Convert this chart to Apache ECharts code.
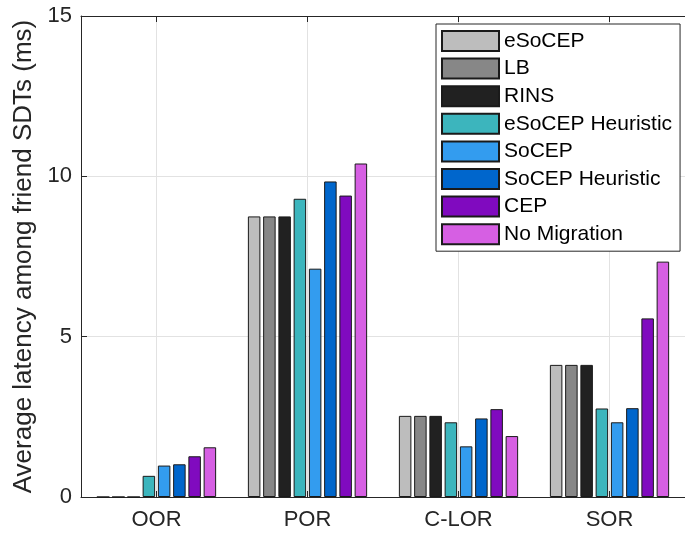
<!DOCTYPE html>
<html>
<head>
<meta charset="utf-8">
<script src="https://cdn.jsdelivr.net/npm/echarts@6/dist/echarts.min.js"></script>
<style>
  html, body { margin: 0; padding: 0; background: #fff; }
  #chart { width: 685px; height: 535px; }
</style>
</head>
<body>
<div id="chart"></div>
<script>
// 场景类别
var categories = ["OOR", "POR", "C-LOR", "SOR"];

// 各方法的平均延迟 (ms)
var seriesNames = ["eSoCEP", "LB", "RINS", "eSoCEP Heuristic", "SoCEP", "SoCEP Heuristic", "CEP", "No Migration"];
var eSoCEP = [0, 8.75, 2.53, 4.12];
var LB = [0, 8.75, 2.53, 4.12];
var RINS = [0, 8.75, 2.53, 4.12];
var eSoCEPHeuristic = [0.66, 9.3, 2.33, 2.76];
var SoCEP = [0.98, 7.12, 1.58, 2.33];
var SoCEPHeuristic = [1.02, 9.84, 2.45, 2.77];
var CEP = [1.27, 9.4, 2.74, 5.57];
var noMigration = [1.55, 10.4, 1.9, 7.34];

var yTicks = [0, 5, 10, 15];

var colors = ["#bdbdbd", "#878787", "#212121", "#3cb5bd", "#339cef", "#0066cc", "#800abf", "#d65fe3"];
var values = [eSoCEP, LB, RINS, eSoCEPHeuristic, SoCEP, SoCEPHeuristic, CEP, noMigration];

var font = "'Liberation Sans', Arial, sans-serif";
var axisColor = "#262626";

var seriesArr = [];
seriesNames.forEach(function (name, i) {
  seriesArr.push({
    name: name,
    type: "bar",
    data: values[i],
    barWidth: 12.5,
    barGap: "22%",
    itemStyle: {
      color: colors[i],
      borderColor: "#1a1a1a",
      borderWidth: 1
    },
    emphasis: { disabled: true }
  });
});

var option = {
  animation: false,
  textStyle: { fontFamily: font },
  grid: { left: 81, top: 16, width: 612, height: 481 },
  legend: {
    orient: "vertical",
    left: 436,
    top: 24,
    padding: [6, 8, 6, 5],
    itemGap: 5.6,
    itemWidth: 57,
    itemHeight: 20,
    icon: "rect",
    backgroundColor: "#fff",
    borderColor: axisColor,
    borderWidth: 1,
    textStyle: { fontSize: 21, color: "#000", fontFamily: font },
    data: seriesNames
  },
  xAxis: [
    {
      type: "category",
      data: categories,
      axisLine: { lineStyle: { color: axisColor, width: 1 } },
      axisTick: { show: true, inside: true, length: 6, alignWithLabel: true, lineStyle: { color: axisColor } },
      axisLabel: { fontSize: 22, color: axisColor, margin: 12, fontFamily: font },
      splitLine: { show: true, alignWithLabel: true, lineStyle: { color: "#e2e2e2" } }
    },
    {
      type: "category",
      data: categories,
      position: "top",
      axisLine: { lineStyle: { color: axisColor, width: 1 } },
      axisTick: { show: true, inside: true, length: 6, alignWithLabel: true, lineStyle: { color: axisColor } },
      axisLabel: { show: false },
      splitLine: { show: false }
    }
  ],
  yAxis: {
    type: "value",
    min: yTicks[0],
    max: yTicks[yTicks.length - 1],
    interval: 5,
    name: "Average latency among friend SDTs (ms)",
    nameLocation: "middle",
    nameGap: 40,
    nameTextStyle: { fontSize: 26, color: axisColor, fontFamily: font },
    axisLine: { show: true, lineStyle: { color: axisColor, width: 1 } },
    axisTick: { show: true, inside: true, length: 6, lineStyle: { color: axisColor } },
    axisLabel: { fontSize: 22, color: axisColor, margin: 9, fontFamily: font },
    splitLine: { show: true, lineStyle: { color: "#e2e2e2" } }
  },
  series: seriesArr
};

var myChart = echarts.init(document.getElementById("chart"), null, { renderer: "canvas" });
myChart.setOption(option);
</script>
</body>
</html>
